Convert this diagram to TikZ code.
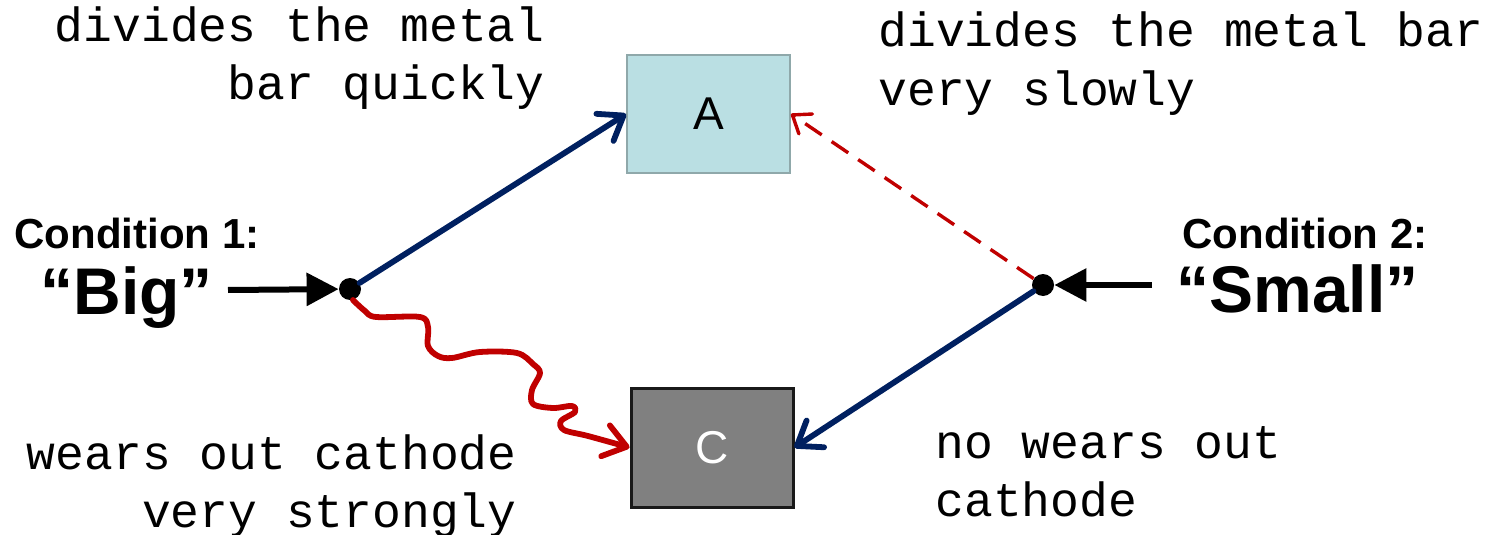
\documentclass[tikz,border=0pt]{standalone}
\usepackage{fontspec}
\setsansfont{Liberation Sans}
\newfontfamily\notefont{Liberation Mono}
\usepackage{tikz}
\usetikzlibrary{positioning,arrows.meta,calc}
\definecolor{navy}{HTML}{002060}
\definecolor{darkred}{HTML}{C00000}
\definecolor{boxblue}{HTML}{BADFE3}
\definecolor{boxedge}{HTML}{8FA8AA}
\definecolor{boxgray}{HTML}{808080}
\tikzset{
  blkarr/.style={-{Triangle[length=16pt,width=16pt]},line width=3pt},
  bluearr/.style={-{Straight Barb[round,length=11pt,width=16pt]},line width=2.9pt,navy,line cap=round},
  redash/.style={-{Straight Barb[round,length=8pt,width=12pt]},line width=1.7pt,darkred,
    dash pattern=on 10pt off 6pt},
  redwave/.style={-{Straight Barb[round,length=11pt,width=16pt]},line width=2.9pt,darkred,
    line cap=round,line join=round},
  junc/.style={circle,fill=black,inner sep=0pt,minimum size=11pt},
  boxa/.style={draw=boxedge,fill=boxblue,line width=1pt,minimum width=81.5pt,minimum height=59pt,
    font=\sffamily\fontsize{23}{23}\selectfont},
  boxc/.style={draw=black!90,fill=boxgray,line width=1.5pt,minimum width=81pt,minimum height=59.5pt,
    text=white,font=\sffamily\fontsize{23}{23}\selectfont},
  note/.style={font=\notefont\fontsize{24}{29}\selectfont,inner sep=0pt},
  cond/.style={font=\sffamily\bfseries\fontsize{21}{21}\selectfont,inner sep=0pt,anchor=base west},
  bigword/.style={font=\sffamily\bfseries\fontsize{33}{33}\selectfont,inner sep=0pt,anchor=base west},
}
\begin{document}
\begin{tikzpicture}[x=0.5pt,y=-0.5pt]
  \useasboundingbox (0,0) rectangle (1489,535);
  % the two outcome boxes
  \node[boxa] (A) at (708.5,114) {A};
  \node[boxc] (C) at (712,447.5) {C};
  % condition labels
  \node[cond] (cond1) at (14,248) {Condition 1:};
  \node[bigword] (big) at (40,314) {``Big''};
  \node[cond] (cond2) at (1182,248) {Condition 2:};
  \node[bigword] (small) at (1176,312) {``Small''};
  % junction points
  \node[junc] (j1) at (350,289) {};
  \node[junc] (j2) at (1043,285) {};
  \coordinate (in1) at (228,290);
  \coordinate (in2) at (1152,285);
  \draw[blkarr] (in1) -- (j1);
  \draw[blkarr] (in2) -- (j2);
  % effects
  \draw[bluearr] (j1) -- (A.west);
  \draw[redash] (j2) -- (A.east);
  \draw[bluearr] (j2) -- (C.east);
  \draw[redwave] plot[smooth,tension=0.55] coordinates {(j1.-75) (365,311) (376,317)
    (420,317) (428,327) (428,346) (438,356) (452,358) (480,352) (517,353) (533,364)
    (540,373) (532,390) (533,404) (553,408) (572,406) (575,412) (561,421) (564,430)
    (588,436) (C.west)};
  % notes (base = last line)
  \node[note,align=right,anchor=base east] (n1) at (545,100)
    {divides the metal\\bar quickly};
  \node[note,align=left,anchor=base west] (n2) at (878,105)
    {divides the metal bar\\very slowly};
  \node[note,align=right,anchor=base east] (n3) at (517,527)
    {wears out cathode\\very strongly};
  \node[note,align=left,anchor=base west] (n4) at (935,516)
    {no wears out\\cathode};
\end{tikzpicture}
\end{document}
